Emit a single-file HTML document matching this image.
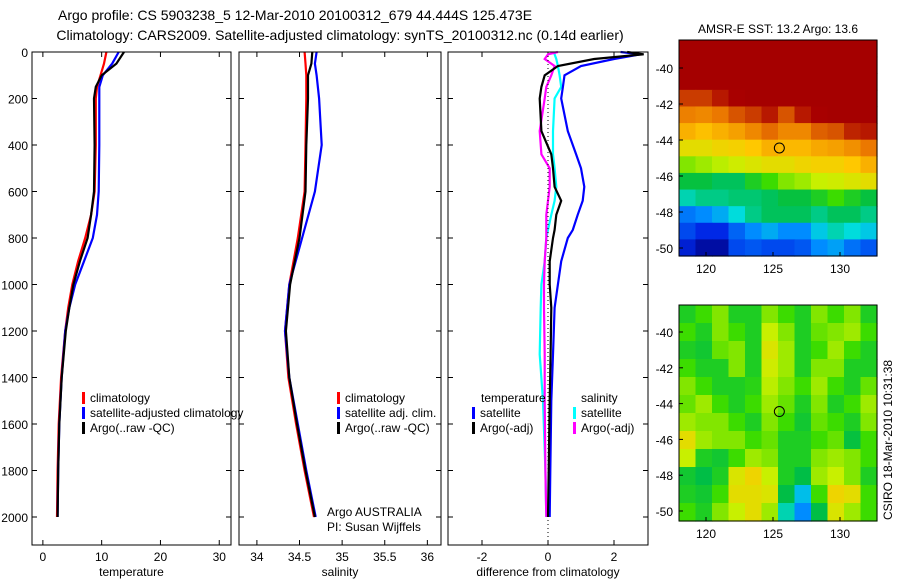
<!DOCTYPE html>
<html><head><meta charset="utf-8"><style>
body{margin:0;background:#fff;}
svg text{font-family:"Liberation Sans",sans-serif;fill:#000;}
</style></head><body>
<svg id="s" width="900" height="580" xmlns="http://www.w3.org/2000/svg">
<text x="58" y="20" font-size="14" text-anchor="start">Argo profile: CS 5903238_5 12-Mar-2010 20100312_679 44.444S 125.473E</text>
<text x="340" y="40" font-size="14" text-anchor="middle">Climatology: CARS2009. Satellite-adjusted climatology: synTS_20100312.nc (0.14d earlier)</text>
<text x="778" y="33" font-size="12" text-anchor="middle">AMSR-E SST: 13.2 Argo: 13.6</text>
<text x="778" y="316" font-size="12" text-anchor="middle">Altimetric SLA: 0.12 Argo: 0.043</text>
<text transform="translate(892,440) rotate(-90)" font-size="12" text-anchor="middle">CSIRO 18-Mar-2010 10:31:38</text>
</svg>
<script>
// ---------- data ----------
const depthT=[0,50,100,150,200,400,600,700,800,900,1000,1100,1200,1400,1600,1800,2000];
const tempClim=[10.8,10.4,9.8,9.2,9.0,9.0,8.8,8.2,7.2,6.0,5.0,4.3,3.8,3.1,2.7,2.5,2.4];
const tempSat=[12.9,11.8,10.2,9.6,9.6,9.6,9.5,9.2,8.5,7.0,5.5,4.5,3.8,3.2,2.8,2.6,2.5];
const tempArgo=[13.8,12.5,10.0,9.0,8.7,8.8,8.7,8.2,7.6,6.3,5.2,4.5,3.9,3.2,2.8,2.6,2.5];
const depthS=[0,50,100,200,400,600,800,1000,1200,1400,1600,1800,2000];
const salClim=[34.56,34.57,34.58,34.58,34.57,34.56,34.48,34.38,34.33,34.37,34.46,34.56,34.67];
const salSat=[34.7,34.68,34.7,34.73,34.76,34.68,34.53,34.38,34.33,34.38,34.48,34.58,34.69];
const salArgo=[34.65,34.64,34.6,34.6,34.58,34.57,34.5,34.39,34.34,34.38,34.47,34.57,34.68];
const depthD=[0,10,30,60,100,150,200,340,440,500,580,640,700,765,800,900,1000,1100,1300,1500,1800,2000];
const dTempSat=[2.2,2.8,2.0,1.0,0.5,0.45,0.4,0.6,0.85,1.0,1.1,1.05,0.9,0.75,0.6,0.4,0.3,0.2,0.15,0.1,0.07,0.05];
const dTempArgo=[2.4,2.9,1.4,0.3,-0.1,-0.2,-0.25,-0.2,0.1,0.15,0.2,0.4,0.25,0.2,0.15,0.05,0.05,0.1,0.08,0.05,0.02,0.0];
const dSalSat=[0.2,0.2,0.25,0.3,0.35,0.4,0.2,0.15,0.15,0.2,0.25,0.2,0.1,0.0,-0.05,-0.1,-0.2,-0.22,-0.25,-0.15,-0.08,-0.05];
const dSalArgo=[0.3,0.0,-0.1,0.2,0.1,-0.05,-0.1,-0.25,-0.2,0.05,0.05,0.0,-0.05,-0.05,-0.05,-0.1,-0.12,-0.12,-0.1,-0.1,-0.08,-0.05];
const depthTicks=[0,200,400,600,800,1000,1200,1400,1600,1800,2000];
const tempTicks=[0,10,20,30];
const salTicks=[34,34.5,35,35.5,36];
const diffTicks=[-2,0,2];
const lonTicks=[120,125,130];
const latTicks=[-40,-42,-44,-46,-48,-50];
const sstGrid=[
[1,1,1,1,1,1,1,1,1,1,1,1],
[1,1,1,1,1,1,1,1,1,1,1,1],
[1,1,1,1,1,1,1,1,1,1,1,1],
[0.9,0.9,0.93,0.97,1,1,1,1,1,1,1,1],
[0.84,0.83,0.85,0.88,0.9,0.93,0.88,0.93,0.97,1,1,1],
[0.78,0.76,0.78,0.8,0.83,0.86,0.83,0.83,0.87,0.88,0.92,0.93],
[0.7,0.7,0.72,0.73,0.75,0.78,0.77,0.77,0.79,0.8,0.82,0.85],
[0.6,0.62,0.64,0.66,0.68,0.7,0.7,0.72,0.73,0.73,0.75,0.78],
[0.46,0.46,0.44,0.44,0.5,0.55,0.6,0.62,0.65,0.66,0.68,0.7],
[0.4,0.42,0.42,0.43,0.43,0.44,0.46,0.46,0.5,0.55,0.5,0.46],
[0.27,0.3,0.33,0.38,0.42,0.44,0.44,0.44,0.42,0.44,0.44,0.42],
[0.2,0.15,0.15,0.24,0.3,0.33,0.3,0.3,0.36,0.4,0.38,0.36],
[0.12,0.05,0.05,0.2,0.22,0.2,0.2,0.22,0.3,0.32,0.26,0.22]];
const slaGrid=[
[0.5,0.55,0.6,0.5,0.5,0.6,0.55,0.5,0.6,0.55,0.6,0.5],
[0.55,0.5,0.6,0.55,0.5,0.65,0.6,0.5,0.58,0.6,0.62,0.55],
[0.5,0.48,0.58,0.6,0.5,0.68,0.62,0.5,0.55,0.62,0.55,0.5],
[0.55,0.5,0.5,0.6,0.5,0.66,0.62,0.5,0.6,0.6,0.5,0.5],
[0.6,0.55,0.5,0.5,0.52,0.64,0.6,0.55,0.62,0.55,0.5,0.58],
[0.58,0.62,0.55,0.5,0.55,0.62,0.58,0.5,0.6,0.5,0.55,0.62],
[0.62,0.6,0.6,0.55,0.5,0.6,0.55,0.48,0.58,0.55,0.5,0.6],
[0.7,0.62,0.6,0.6,0.55,0.58,0.5,0.5,0.55,0.58,0.46,0.55],
[0.65,0.5,0.48,0.55,0.62,0.6,0.5,0.5,0.6,0.62,0.6,0.55],
[0.48,0.45,0.5,0.68,0.72,0.65,0.5,0.45,0.62,0.65,0.6,0.5],
[0.5,0.48,0.55,0.7,0.7,0.68,0.45,0.35,0.55,0.72,0.7,0.55],
[0.55,0.5,0.6,0.65,0.7,0.62,0.4,0.3,0.45,0.68,0.62,0.55]];

// ---------- helpers ----------
const svg=document.getElementById('s');
const NS='http://www.w3.org/2000/svg';
function mk(tag,attrs,parent){const e=document.createElementNS(NS,tag);for(const k in attrs)e.setAttribute(k,attrs[k]);(parent||svg).appendChild(e);return e;}
function jet(v){v=Math.max(0,Math.min(1,v));
 const stops=[[0,[0,0,130]],[0.15,[0,40,230]],[0.3,[0,140,255]],[0.38,[0,220,220]],[0.45,[0,190,70]],[0.55,[60,220,0]],[0.65,[200,240,0]],[0.75,[255,200,0]],[0.85,[235,120,0]],[0.95,[170,0,0]],[1,[165,0,0]]];
 for(let i=1;i<stops.length;i++){if(v<=stops[i][0]){const a=stops[i-1],b=stops[i];const t=(v-a[0])/(b[0]-a[0]);return 'rgb('+a[1].map((c,j)=>Math.round(c+(b[1][j]-c)*t)).join(',')+')';}}
 return 'rgb(165,0,0)';}
const yD=d=>52+d/2000*465;

function profilePanel(name,x0,x1,xmin,xmax,ticks,fmt,label,series,depths,leftLabels){
 const xs=v=>x0+(v-xmin)/(xmax-xmin)*(x1-x0);
 const g=mk('g',{});
 
 
 depthTicks.forEach(d=>{const y=yD(d);
  const t1=mk('line',{x1:x0,x2:x0+5,y1:y,y2:y,stroke:'#000'},g);
  
  
  mk('line',{x1:x1-5,x2:x1,y1:y,y2:y,stroke:'#000'},g);
  if(leftLabels){const t=mk('text',{x:x0-4,y:y+5,'font-size':12,'text-anchor':'end'},g);t.textContent=d;
   
   }
 });
 ticks.forEach(v=>{const x=xs(v);
  mk('line',{x1:x,x2:x,y1:545,y2:540,stroke:'#000'},g);
  mk('line',{x1:x,x2:x,y1:52,y2:57,stroke:'#000'},g);
  const t=mk('text',{x:x,y:561,'font-size':12,'text-anchor':'middle'},g);t.textContent=fmt(v);
  
  });
 const lb=mk('text',{x:(x0+x1)/2,y:576,'font-size':12,'text-anchor':'middle'},g);lb.textContent=label;
 
 
 series.forEach(s=>{
  const pts=s.vals.map((v,i)=>xs(v).toFixed(1)+','+yD(depths[i]).toFixed(1)).join(' ');
  const p=mk('polyline',{points:pts,fill:'none',stroke:s.color,'stroke-width':2.2},g);
  
  
 });
 const b=mk('rect',{x:x0,y:52,width:x1-x0,height:493,fill:'none',stroke:'#000','stroke-width':1},g);
 
 
 return xs;
}
profilePanel('temperature',32,231,-1.85,32,tempTicks,v=>v,'temperature',
 [{vals:tempClim,color:'#f00',name:'temp-climatology-line'},{vals:tempSat,color:'#00f',name:'temp-satellite-line'},{vals:tempArgo,color:'#000',name:'temp-argo-line'}],depthT,true);
profilePanel('salinity',239,441,33.79,36.16,salTicks,v=>v,'salinity',
 [{vals:salClim,color:'#f00',name:'sal-climatology-line'},{vals:salSat,color:'#00f',name:'sal-satellite-line'},{vals:salArgo,color:'#000',name:'sal-argo-line'}],depthS,false);
const xsD=profilePanel('difference',448,648,-3.03,3.03,diffTicks,v=>v,'difference from climatology',
 [{vals:dSalSat,color:'#0ff',name:'diff-sal-satellite-line'},{vals:dSalArgo,color:'#f0f',name:'diff-sal-argo-line'},{vals:dTempSat,color:'#00f',name:'diff-temp-satellite-line'},{vals:dTempArgo,color:'#000',name:'diff-temp-argo-line'}],depthD,false);
const zl=mk('line',{x1:xsD(0),x2:xsD(0),y1:52,y2:545,stroke:'#000','stroke-dasharray':'1,3'});



function legend(x,y,items){items.forEach((it,i)=>{
 const l=mk('rect',{x:x,y:y+i*15-10,width:3,height:12,fill:it[1]});
 
 
 const t=mk('text',{x:x+8,y:y+i*15,'font-size':12});t.textContent=it[0];
 
 });}
legend(82,402,[['climatology','#f00'],['satellite-adjusted climatology','#00f'],['Argo(..raw -QC)','#000']]);
legend(337,402,[['climatology','#f00'],['satellite adj. clim.','#00f'],['Argo(..raw -QC)','#000']]);
legend(472,417,[['satellite','#00f'],['Argo(-adj)','#000']]);
legend(573,417,[['satellite','#0ff'],['Argo(-adj)','#f0f']]);
[['temperature',481],['salinity',581]].forEach(a=>{const t=mk('text',{x:a[1],y:402,'font-size':12});t.textContent=a[0];
 
 });
[['Argo AUSTRALIA',516],['PI: Susan Wijffels',531]].forEach(a=>{const t=mk('text',{x:327,y:a[1],'font-size':12});t.textContent=a[0];
 
 });

function mapPanel(name,y0,y1,latTop,latBot,grid){
 const x0=679,x1=877;
 const lonX=l=>706+(l-120)*(773-706)/5;
 const latY=a=>latTop.y+(a-latTop.v)*(latBot.y-latTop.y)/(latBot.v-latTop.v);
 const g=mk('g',{});
 
 
 const rows=grid.length,cols=grid[0].length,cw=(x1-x0)/cols,ch=(y1-y0)/rows;
 grid.forEach((row,r)=>row.forEach((v,c)=>{
  const rc=mk('rect',{x:(x0+c*cw).toFixed(2),y:(y0+r*ch).toFixed(2),width:(cw+0.6).toFixed(2),height:(ch+0.6).toFixed(2),fill:jet(v)},g);
  
  
 }));
 const c=mk('circle',{cx:lonX(125.473),cy:latY(-44.444),r:5,fill:'none',stroke:'#000'},g);
 
 
 mk('rect',{x:x0,y:y0,width:x1-x0,height:y1-y0,fill:'none',stroke:'#000'},g);
 latTicks.forEach(a=>{const y=latY(a);mk('line',{x1:x0,x2:x0+4,y1:y,y2:y,stroke:'#000'},g);
  const t=mk('text',{x:x0-6,y:y+5,'font-size':12,'text-anchor':'end'},g);t.textContent=a;
  
  });
 lonTicks.forEach(l=>{const x=lonX(l);mk('line',{x1:x,x2:x,y1:y1,y2:y1-4,stroke:'#000'},g);
  const t=mk('text',{x:x,y:y1+17,'font-size':12,'text-anchor':'middle'},g);t.textContent=l;
  
  });
}
mapPanel('sst',40,256,{v:-40,y:68},{v:-50,y:248},sstGrid);
mapPanel('sla',305,521,{v:-40,y:332},{v:-50,y:511},slaGrid);
</script>
</body></html>
